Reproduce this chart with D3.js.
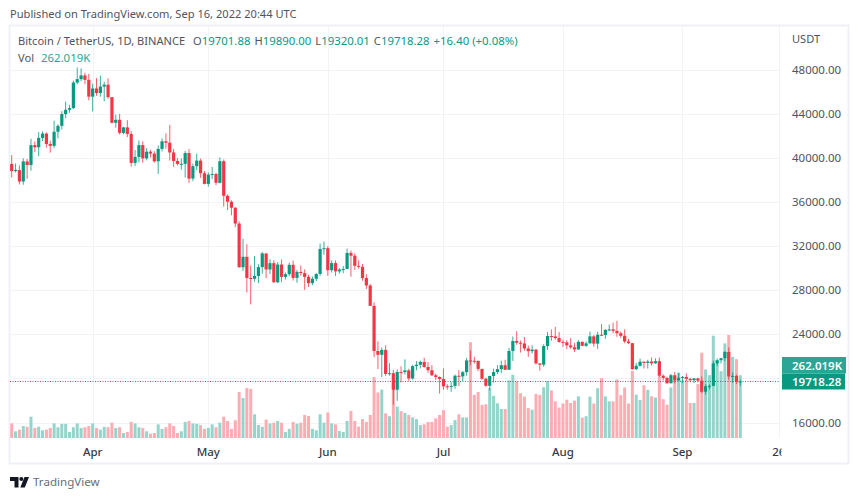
<!DOCTYPE html>
<html>
<head>
<meta charset="utf-8">
<title>BTCUSDT</title>
<script src="https://cdnjs.cloudflare.com/ajax/libs/d3/7.8.5/d3.min.js"></script>
<style>
html, body { margin: 0; padding: 0; background: #fff; overflow: hidden; }
text { font-family: "Noto Sans", sans-serif; }
</style>
</head>
<body>
<div id="chart"></div>
<script>
// daily candles, 11 Mar 2022 to 16 Sep 2022
var opens = [39439,38794,38885,37846,39666,39338,41143,40951,41801,42191,41247,41078,42358,42892,43960,44348,44500,46820,47128,47465,47062,
	45538,46281,45868,46453,46622,45497,43170,43444,42252,42753,42158,39530,40074,41147,39942,40551,40378,39678,40801,41493,41358,40480,39709,39441,39450,40426,38112,39235,39742,38597,
	37630,38468,38525,37729,39690,36552,36013,35472,34038,30076,31017,29103,29029,29287,30086,31328,29874,30444,28715,30319,29201,29445,30293,29109,29654,29542,29201,28629,29031,29468,31734,
	31801,29805,30452,29700,29864,29920,31373,31125,30204,30109,29091,28424,26574,22485,22136,22583,20401,20468,18970,20574,20573,20723,19987,21110,21237,21491,21038,20742,20281,20123,
	19942,19279,19243,19315,20236,20175,20564,21624,21594,21592,20860,19970,19329,20212,20569,20836,21190,20779,22485,23389,23231,23164,22714,22465,22609,21361,21239,22930,23843,23804,23656,
	23303,23268,22987,22818,22622,23312,22954,23175,23810,23149,23954,23934,24403,24441,24305,24094,23854,23342,23191,20834,21140,21515,21399,21529,21368,21560,20241,20037,19555,20285,19811,
	20050,20131,19951,19832,20000,19796,18790,19290,19320,21360,21648,21826,22395,20173,20226,19701.88];
var highs = [40236,39486,39310,39947,39887,41718,41478,42325,42400,42296,41544,43361,43025,44220,45094,44792,46999,48189,48096,47700,47600,
	46720,47213,47444,46890,47200,45497,43900,43970,42800,43410,42414,40700,41561,41500,40870,40709,40595,41116,41760,42199,42976,40795,39980,39940,40616,40797,39474,40372,39925,38795,
	38675,39167,38651,40023,39845,36675,36146,35510,34243,32658,32162,30243,31083,30343,31460,31328,30788,30709,30545,30777,29600,30487,30670,29845,30223,29886,29397,29250,29531,32222,32399,
	31982,30689,30699,29988,30189,31765,31589,31327,30700,30382,29440,28544,26895,23362,22800,22995,21365,20761,20815,21090,21723,20871,21233,21558,21614,21868,21478,21200,20432,20179,
	20900,19467,19664,20354,20750,20675,21857,22527,21955,21596,20868,20059,20250,20885,21200,21600,21684,22777,23800,24276,23427,23756,22977,22998,22663,21361,23101,24199,24442,24668,24194,
	23509,23466,23647,23223,23472,23354,23364,24245,23928,24226,24918,24456,24888,25047,25214,24247,24446,23600,23208,21382,21800,21520,21684,21900,21819,21888,20363,20150,20420,20580,20490,
	20208,20444,20055,20029,20057,20180,19464,19449,21597,21810,21860,22488,22799,20550,20330,19890];
var lows = [38223,38660,37578,37555,38098,38828,40500,40135,41516,40911,40467,40875,41751,42560,43579,44072,44421,46663,46950,46670,45200,
	44200,45620,45530,45118,45353,43121,42727,42107,42125,41868,39200,39254,39588,39551,39766,40020,39546,38536,40571,40820,39751,39177,39285,38929,38200,37702,37881,38881,38175,37578,
	37386,38052,37511,37670,35571,35258,34785,33713,30033,29730,27785,26700,28751,28630,29480,29087,29450,28654,28630,28730,28947,29255,28866,28669,29294,28019,28282,28450,28810,29299,31200,
	29301,29594,29282,29485,29531,29890,29218,29843,29944,28850,28099,26560,21925,20846,20111,20232,20246,17622,17960,19637,20348,19770,19890,20740,20906,20960,20510,20202,19854,18626,
	18975,18977,18781,19055,19304,19761,20250,21189,21322,20652,19875,19240,18910,19616,20384,20472,20750,20762,21579,23050,22341,22500,21950,22257,21250,20706,21042,22582,23414,23502,23227,
	22850,22654,22681,22400,22586,22909,22844,23154,22865,22664,23852,23583,24296,24074,23773,23671,23180,23100,20783,20761,21069,20890,20890,21145,21310,20113,19800,19520,19550,19540,19800,
	19565,19755,19650,19583,19635,18650,18510,19000,19291,21110,21350,21545,19860,19617,19497,19320];
var closes = [38794,38904,37846,39666,39338,41143,40951,41801,42190,41247,41078,42358,42892,43960,44348,44500,46820,47128,47465,47062,45538,
	46281,45868,46453,46622,45497,43170,43444,42252,42753,42158,39530,40074,41147,39942,40551,40378,39678,40801,41493,41358,40480,39709,39441,39450,40426,38112,39235,39742,38597,37630,
	38468,38525,37729,39690,36552,36013,35472,34038,30076,31017,29103,29029,29287,30086,31328,29874,30444,28715,30319,29201,29445,30293,29109,29654,29542,29201,28629,29031,29468,31734,31801,
	29805,30452,29700,29864,29920,31373,31125,30204,30109,29091,28424,26574,22487,22136,22583,20401,20468,18970,20574,20573,20723,19987,21110,21237,21491,21038,20742,20281,20123,19942,
	19279,19243,19315,20236,20175,20564,21624,21594,21592,20860,19970,19329,20212,20569,20836,21190,20779,22485,23389,23231,23164,22714,22465,22609,21361,21239,22930,23843,23804,23656,23303,
	23268,22987,22818,22622,23312,22954,23175,23810,23149,23954,23934,24403,24441,24305,24094,23854,23342,23191,20834,21140,21515,21399,21529,21368,21560,20241,20037,19555,20285,19811,20050,
	20131,19951,19832,20000,19796,18790,19290,19320,21360,21648,21826,22395,20173,20226,19701,19718.28];
var volumes = [61,28,35,50,47,89,42,47,32,35,42,61,45,59,59,25,45,61,42,45,50,
	61,42,35,47,45,64,42,45,21,25,67,61,45,42,28,18,21,57,38,45,61,50,21,28,67,71,61,59,54,38,
	42,57,45,64,89,71,38,74,192,167,209,205,99,54,47,77,61,64,71,64,25,38,67,60,64,96,92,38,32,99,64,
	106,61,57,29,25,71,113,71,47,79,67,96,254,190,202,103,91,240,131,112,105,96,86,79,54,57,67,67,82,96,
	116,47,54,75,99,86,86,400,180,192,138,141,208,176,145,121,121,241,264,237,187,173,125,118,184,180,212,238,199,153,127,
	144,160,146,156,174,85,91,173,144,208,250,174,153,153,244,179,211,144,280,181,159,220,201,174,169,257,162,139,211,241,273,
	241,241,146,146,225,356,286,262,427,322,279,395,430,339,329,262.019];

var priceTicks = [48000,44000,40000,36000,32000,28000,24000,20000,16000];
var hiddenPriceLabels = [20000];
var timeTicks = ["Apr","May","Jun","Jul","Aug","Sep","26"];
var timeTickIndex = [21,51,82,112,143,174,199];

var lastClose = closes[closes.length - 1];
var lastVolume = volumes[volumes.length - 1];

var upColor = "#089981", downColor = "#f23645";
var upVol = "#94d5cb", downVol = "#fbadb3";
var gridColor = "#f1f3f7", frameColor = "#eff1f6", textColor = "#50535e";

var width = 859, height = 499;
var frame = { left: 10, top: 26, right: 849, bottom: 464 };
var paneRight = 780, paneBottom = 438;

var x = d3.scaleLinear().domain([0, 189]).range([11.7, 740.3]);
var y = d3.scaleLinear().domain([16000, 48000]).range([422.5, 69.5]);
var yVol = d3.scaleLinear().domain([0, 430]).range([paneBottom, 335]);

var svg = d3.select("#chart").append("svg")
	.attr("width", width)
	.attr("height", height)
	.style("display", "block");

svg.append("defs").append("clipPath").attr("id", "timeClip")
	.append("rect").attr("x", frame.left).attr("y", paneBottom)
	.attr("width", paneRight + 1.5 - frame.left).attr("height", frame.bottom - paneBottom);

svg.append("text").attr("x", 10).attr("y", 18)
	.attr("font-size", 11.1).attr("fill", textColor)
	.text("Published on TradingView.com, Sep 16, 2022 20:44 UTC");

// frame and panes
svg.append("rect").attr("x", frame.left - 0.5).attr("y", frame.top - 0.5)
	.attr("width", frame.right - frame.left).attr("height", frame.bottom - frame.top)
	.attr("fill", "#fff").attr("stroke", frameColor).attr("stroke-width", 2);

svg.selectAll(".hgrid").data(priceTicks).enter().append("line")
	.attr("class", "hgrid")
	.attr("x1", frame.left).attr("x2", paneRight)
	.attr("y1", function (d) { return Math.round(y(d)) + 0.5; })
	.attr("y2", function (d) { return Math.round(y(d)) + 0.5; })
	.attr("stroke", gridColor);

svg.selectAll(".vgrid").data(timeTickIndex).enter().append("line")
	.attr("class", "vgrid")
	.attr("x1", function (d) { return Math.round(x(d)) + 0.5; })
	.attr("x2", function (d) { return Math.round(x(d)) + 0.5; })
	.attr("y1", frame.top).attr("y2", paneBottom)
	.attr("stroke", gridColor);

svg.append("line").attr("x1", paneRight - 0.5).attr("x2", paneRight - 0.5)
	.attr("y1", frame.top).attr("y2", paneBottom)
	.attr("stroke", gridColor);

// volume
var idx = d3.range(closes.length);
function isUp(i) { return closes[i] >= opens[i]; }

svg.append("g").selectAll("rect").data(idx).enter().append("rect")
	.attr("x", function (i) { return x(i) - 1.5; })
	.attr("width", 3)
	.attr("y", function (i) { return yVol(volumes[i]); })
	.attr("height", function (i) { return paneBottom - yVol(volumes[i]); })
	.attr("fill", function (i) { return isUp(i) ? upVol : downVol; });

// last price line
svg.append("line")
	.attr("x1", frame.left).attr("x2", paneRight)
	.attr("y1", y(lastClose)).attr("y2", y(lastClose))
	.attr("stroke", upColor).attr("stroke-width", 1)
	.attr("stroke-dasharray", "1 1.5");

// candles
var candles = svg.append("g").selectAll("g").data(idx).enter().append("g");
candles.append("line")
	.attr("x1", function (i) { return x(i); })
	.attr("x2", function (i) { return x(i); })
	.attr("y1", function (i) { return y(highs[i]); })
	.attr("y2", function (i) { return y(lows[i]); })
	.attr("stroke", function (i) { return isUp(i) ? upColor : downColor; })
	.attr("stroke-width", 0.8);
candles.append("rect")
	.attr("x", function (i) { return x(i) - 1.6; })
	.attr("width", 3.2)
	.attr("y", function (i) { return y(Math.max(opens[i], closes[i])); })
	.attr("height", function (i) { return Math.max(1, Math.abs(y(opens[i]) - y(closes[i]))); })
	.attr("fill", function (i) { return isUp(i) ? upColor : downColor; });

// legend
var legend = svg.append("text").attr("x", 18).attr("y", 45).attr("font-size", 11.1).attr("fill", textColor);
legend.append("tspan").text("Bitcoin / TetherUS, 1D, BINANCE");
var legendParts = [
	["O", "19701.88"], ["H", "19890.00"], ["L", "19320.01"], ["C", "19718.28"]
];
legendParts.forEach(function (p, i) {
	legend.append("tspan").attr("dx", i === 0 ? 8 : 4).text(p[0]);
	legend.append("tspan").attr("fill", upColor).attr("font-size", 11.4).text(p[1]);
});
legend.append("tspan").attr("dx", 4).attr("fill", upColor).attr("font-size", 11.4).text("+16.40 (+0.08%)");

var volLegend = svg.append("text").attr("x", 18).attr("y", 62).attr("font-size", 11.1).attr("fill", textColor);
volLegend.append("tspan").text("Vol");
volLegend.append("tspan").attr("dx", 7).attr("fill", "#26a69a").attr("font-size", 11.4).text(lastVolume + "K");

// price axis
svg.append("text").attr("x", 792).attr("y", 43).attr("font-size", 11.1).attr("fill", textColor).text("USDT");

svg.selectAll(".priceLabel")
	.data(priceTicks.filter(function (d) { return hiddenPriceLabels.indexOf(d) < 0; }))
	.enter().append("text")
	.attr("class", "priceLabel")
	.attr("x", 792)
	.attr("y", function (d) { return y(d) + 4; })
	.attr("font-size", 11.5)
	.attr("fill", textColor)
	.text(function (d) { return d3.format(".2f")(d); });

svg.append("rect").attr("x", 782).attr("y", 357).attr("width", 64).attr("height", 16.5).attr("fill", "#2ba596");
svg.append("text").attr("x", 792).attr("y", 369.5).attr("font-size", 11.5).attr("font-weight", 600)
	.attr("fill", "#fff").text(lastVolume + "K");
svg.append("rect").attr("x", 782).attr("y", 373.5).attr("width", 63).attr("height", 16).attr("fill", upColor);
svg.append("text").attr("x", 792).attr("y", 385.5).attr("font-size", 11.5).attr("font-weight", 600)
	.attr("fill", "#fff").text(d3.format(".2f")(lastClose));

// time axis
svg.append("g").attr("clip-path", "url(#timeClip)")
	.selectAll("text").data(timeTicks).enter().append("text")
	.attr("x", function (d, i) { return x(timeTickIndex[i]); })
	.attr("y", 456)
	.attr("text-anchor", "middle")
	.attr("font-size", 11.5)
	.attr("font-weight", 500)
	.attr("fill", "#363a45")
	.text(function (d) { return d; });

// logo
var logo = svg.append("g").attr("fill", "#131722");
logo.append("path").attr("d", "M10 477H18.5V487.5H14.5V481H10Z");
logo.append("circle").attr("cx", 21.3).attr("cy", 479).attr("r", 2);
logo.append("path").attr("d", "M24.5 477H29L24.8 487.5H20.3Z");
svg.append("text").attr("x", 33).attr("y", 486).attr("font-size", 11.6).attr("fill", "#6a6d78").text("TradingView");
</script>
</body>
</html>
